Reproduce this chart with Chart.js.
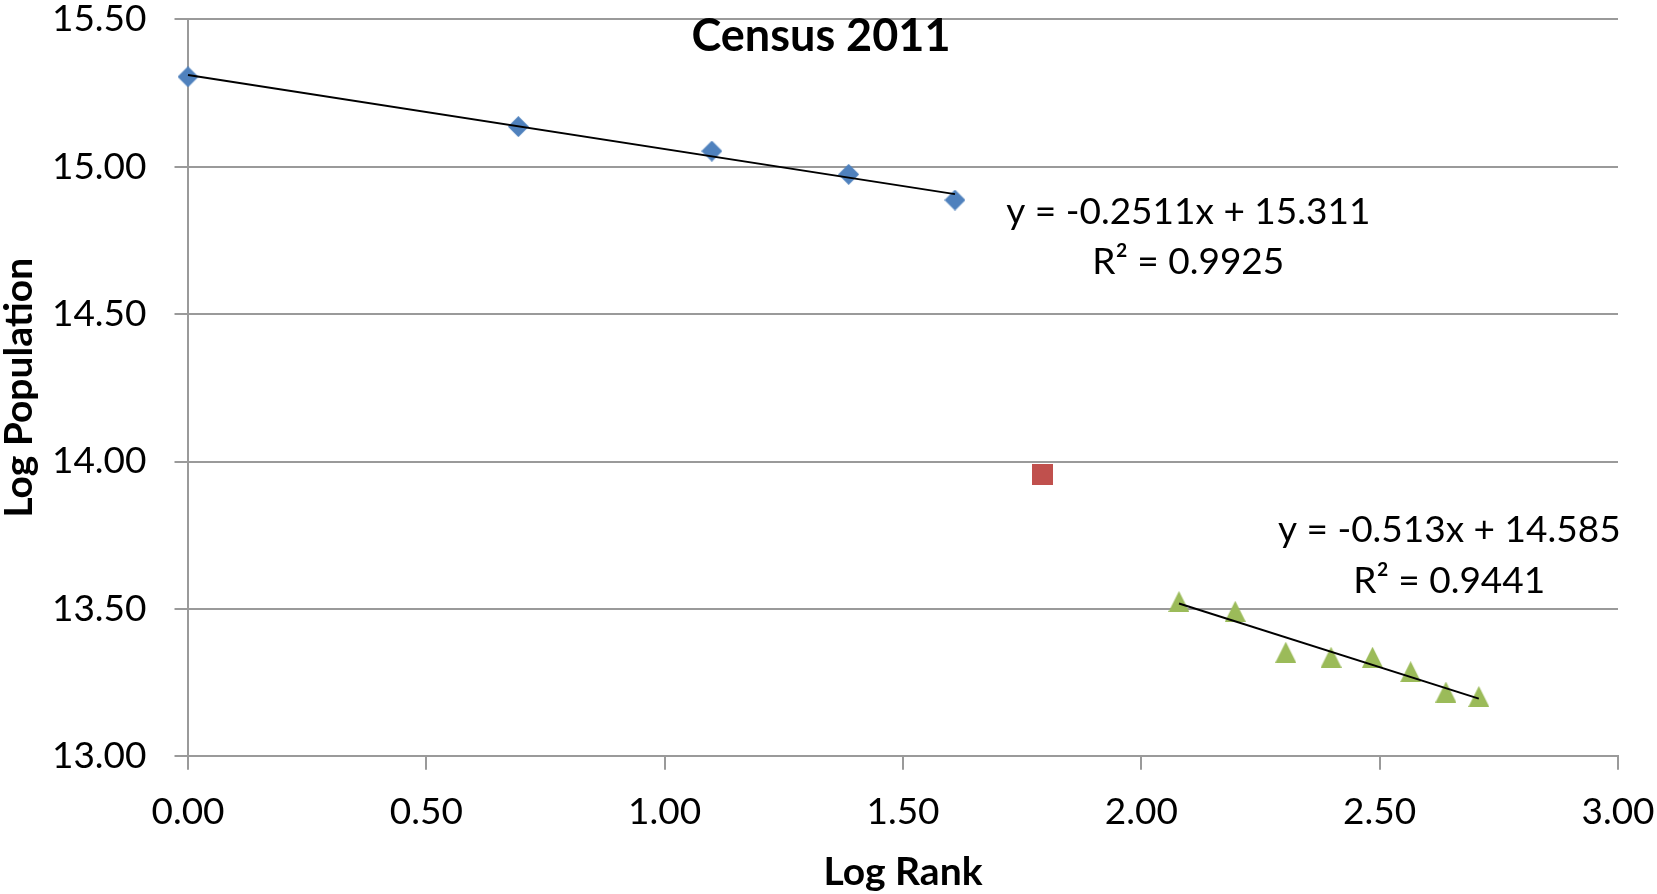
<!DOCTYPE html>
<html>
<head>
<meta charset="utf-8">
<script src="https://cdn.jsdelivr.net/npm/chart.js@4.4.1/dist/chart.umd.min.js"></script>
<style>
  html, body { margin: 0; padding: 0; background: #ffffff; }
  #wrap { width: 1657px; height: 894px; }
</style>
</head>
<body>
<div id="wrap"><canvas id="c" width="1657" height="894"></canvas></div>
<script>
// Chart text
const chartTitle = 'Census 2011';
const xTitle = 'Log Rank';
const yTitle = 'Log Population';

// Axis ticks
const xTicks = [0, 0.5, 1, 1.5, 2, 2.5, 3];
const yTicks = [13, 13.5, 14, 14.5, 15, 15.5];

// Log rank / log population of the cities
const topRank = [0, 0.693, 1.099, 1.386, 1.609];
const topPop = [15.305, 15.136, 15.053, 14.974, 14.887];
const midRank = [1.792];
const midPop = [13.957];
const lowRank = [2.079, 2.197, 2.303, 2.398, 2.485, 2.565, 2.639, 2.708];
const lowPop = [13.525, 13.492, 13.353, 13.336, 13.336, 13.287, 13.218, 13.203];

// Linear trend fits: slope, intercept, R²
const topFit = [-0.2511, 15.311, 0.9925];
const lowFit = [-0.513, 14.585, 0.9441];

const FONT = 'Lato, "Open Sans", sans-serif';
const GRID = '#9a9a9a';

function pts(xs, ys) { return xs.map((v, i) => ({ x: v, y: ys[i] })); }

// trend line drawn between the first and last rank of its group
function fitLine(fit, xs) {
  const a = xs[0], b = xs[xs.length - 1];
  return [{ x: a, y: fit[1] + fit[0] * a }, { x: b, y: fit[1] + fit[0] * b }];
}
function eqText(fit) { return 'y = ' + fit[0] + 'x + ' + fit[1]; }
function r2Text(fit) { return 'R\u00B2 = ' + fit[2]; }

// marker glyphs, centred on their own box
function marker(shape, color, w, h) {
  const c = document.createElement('canvas');
  c.width = w; c.height = h;
  const g = c.getContext('2d');
  g.fillStyle = color;
  g.beginPath();
  if (shape === 'diamond') {
    g.moveTo(w / 2, 0); g.lineTo(w, h / 2); g.lineTo(w / 2, h); g.lineTo(0, h / 2);
  } else if (shape === 'triangle') {
    g.moveTo(w / 2, 0); g.lineTo(w, h); g.lineTo(0, h);
  } else {
    g.rect(0, 0, w, h);
  }
  g.closePath();
  g.fill();
  return c;
}

// equation labels anchored in data units
const fitLabels = [
  { fit: topFit, x: 2.0985, y1: 14.850, y2: 14.682 },
  { fit: lowFit, x: 2.646, y1: 13.773, y2: 13.599 }
];

const textPlugin = {
  id: 'texts',
  afterDraw(chart) {
    const { ctx, scales } = chart;
    const xs = scales.x, ys = scales.y;
    ctx.save();
    ctx.fillStyle = '#000000';
    ctx.textAlign = 'center';
    ctx.textBaseline = 'alphabetic';

    ctx.font = 'bold 45px ' + FONT;
    ctx.fillText(chartTitle, 821, 50.5);

    ctx.font = '37px ' + FONT;
    fitLabels.forEach(l => {
      const px = xs.getPixelForValue(l.x);
      ctx.fillText(eqText(l.fit), px, ys.getPixelForValue(l.y1) + 13.3);
      ctx.fillText(r2Text(l.fit), px, ys.getPixelForValue(l.y2) + 13.3);
    });

    ctx.font = 'bold 39px ' + FONT;
    ctx.fillText(xTitle, (chart.chartArea.left + chart.chartArea.right) / 2, 885);

    ctx.translate(32, (chart.chartArea.top + chart.chartArea.bottom) / 2);
    ctx.rotate(-Math.PI / 2);
    ctx.fillText(yTitle, 0, 0);
    ctx.restore();
  }
};

new Chart(document.getElementById('c'), {
  type: 'scatter',
  data: {
    datasets: [
      {
        type: 'line', data: fitLine(topFit, topRank), borderColor: '#000000', borderWidth: 2,
        pointRadius: 0, fill: false, order: 0, clip: false
      },
      {
        type: 'line', data: fitLine(lowFit, lowRank), borderColor: '#000000', borderWidth: 2,
        pointRadius: 0, fill: false, order: 0, clip: false
      },
      {
        data: pts(topRank, topPop), pointStyle: marker('diamond', '#4F81BD', 21, 21),
        pointRadius: 10, order: 1, clip: false
      },
      {
        data: pts(midRank, midPop), pointStyle: marker('square', '#C0504D', 21, 21),
        pointRadius: 10, order: 1, clip: false
      },
      {
        data: pts(lowRank, lowPop), pointStyle: marker('triangle', '#9BBB59', 21, 21),
        pointRadius: 10, order: 1, clip: false
      }
    ]
  },
  options: {
    responsive: false,
    animation: false,
    events: [],
    layout: { padding: { top: 19.3, right: 39, bottom: 0, left: 0 } },
    plugins: { legend: { display: false }, tooltip: { enabled: false }, title: { display: false } },
    scales: {
      x: {
        type: 'linear', min: 0, max: 3,
        afterBuildTicks: s => { s.ticks = xTicks.map(v => ({ value: v })); },
        afterFit: s => { s.height = 137.7; s.paddingLeft = 0; s.paddingRight = 0; s.paddingTop = 0; s.paddingBottom = 0; },
        grid: { drawOnChartArea: false, drawTicks: true, tickLength: 13.5, color: GRID, lineWidth: 2 },
        border: { color: GRID, width: 2 },
        ticks: {
          color: '#000000', padding: 20, maxRotation: 0, autoSkip: false,
          font: { family: FONT, size: 37 },
          callback: v => Number(v).toFixed(2)
        }
      },
      y: {
        type: 'linear', min: 13, max: 15.5,
        afterBuildTicks: s => { s.ticks = yTicks.map(v => ({ value: v })); },
        afterFit: s => { s.width = 188; s.paddingLeft = 0; s.paddingRight = 0; s.paddingTop = 0; s.paddingBottom = 0; },
        grid: { drawOnChartArea: true, drawTicks: true, tickLength: 13.5, color: GRID, lineWidth: 2 },
        border: { color: GRID, width: 2 },
        ticks: {
          color: '#000000', padding: 28, autoSkip: false,
          font: { family: FONT, size: 37 },
          callback: v => Number(v).toFixed(2)
        }
      }
    }
  },
  plugins: [textPlugin]
});
</script>
</body>
</html>
